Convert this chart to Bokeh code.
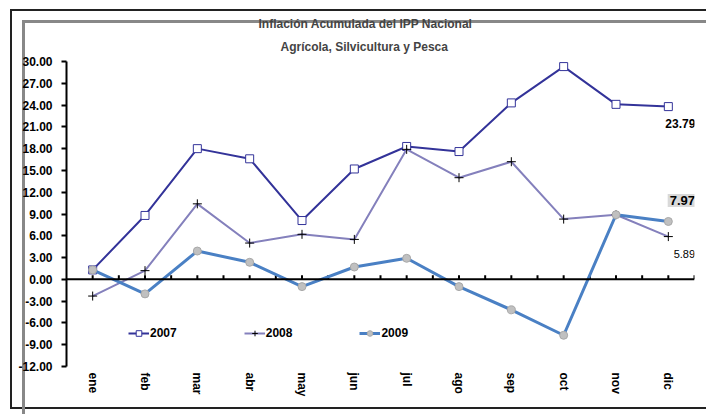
from bokeh.plotting import figure
from bokeh.models import (ColumnDataSource, Range1d, FactorRange, FixedTicker,
                          PrintfTickFormatter, Span, Title, Legend, LegendItem)
from bokeh.transform import dodge
from bokeh.core.properties import value
from bokeh.embed import file_html
from bokeh.resources import INLINE

months = ["ene", "feb", "mar", "abr", "may", "jun", "jul", "ago", "sep", "oct", "nov", "dic"]
v2007 = [1.3, 8.8, 18.0, 16.6, 8.1, 15.2, 18.3, 17.6, 24.3, 29.3, 24.1, 23.79]
v2008 = [-2.3, 1.2, 10.4, 5.0, 6.2, 5.5, 17.9, 14.0, 16.2, 8.3, 8.9, 5.89]
v2009 = [1.3, -2.0, 3.9, 2.35, -1.0, 1.7, 2.9, -1.0, -4.2, -7.7, 8.9, 7.97]
y_ticks = [-12, -9, -6, -3, 0, 3, 6, 9, 12, 15, 18, 21, 24, 27, 30]
series_names = ["2007", "2008", "2009"]
title1 = "Inflación Acumulada del IPP Nacional"
title2 = "Agrícola, Silvicultura y Pesca"

FONT = "Liberation Sans"

# chart-area frame lines (drawn as CSS backgrounds of the figure element)
frame_styles = {
    "background-image": ", ".join(["linear-gradient(#888888, #888888)"] * 2 +
                                  ["linear-gradient(#222222, #222222)"] * 3),
    "background-repeat": "no-repeat",
    "background-position": "22px 20px, 22px 20px, 10px 9px, 10px 9px, 10px 407px",
    "background-size": "3px 100%, 100% 3px, 2px 400px, 100% 2px, 100% 2px",
    "background-color": "white",
}

p = figure(width=706, height=414, output_backend="svg", toolbar_location=None,
           x_range=FactorRange(*months), y_range=Range1d(y_ticks[0], y_ticks[-1]),
           min_border_left=66, min_border_right=12, min_border_top=61, min_border_bottom=48,
           styles=frame_styles)
p.outline_line_color = None
p.xgrid.visible = False
p.ygrid.visible = False
p.background_fill_color = "white"
p.background_fill_alpha = 0
p.border_fill_color = None

# titles
t2 = Title(text=title2, align="left", offset=214, text_font=FONT, text_font_size="12px",
           text_font_style="bold", standoff=15)
t1 = Title(text=title1, align="left", offset=192, text_font=FONT, text_font_size="12px",
           text_font_style="bold", standoff=0, text_line_height=0.75)
p.add_layout(t2, "above")
p.add_layout(t1, "above")

# y axis
ya = p.yaxis[0]
ya.ticker = FixedTicker(ticks=y_ticks)
ya.formatter = PrintfTickFormatter(format="%.2f")
ya.axis_line_width = 2
ya.major_tick_line_width = 2
ya.major_tick_out = 5
ya.major_tick_in = 0
ya.minor_tick_line_color = None
ya.major_label_standoff = 9
ya.major_label_text_font = FONT
ya.major_label_text_font_size = "12px"
ya.major_label_text_font_style = "bold"
ya.major_label_text_color = "black"

# x axis (labels only)
xa = p.xaxis[0]
xa.axis_line_color = None
xa.major_tick_line_color = None
xa.minor_tick_line_color = None
xa.major_label_orientation = "vertical"
xa.major_label_standoff = 0
xa.major_label_text_font = FONT
xa.major_label_text_font_size = "12px"
xa.major_label_text_font_style = "bold"
xa.major_label_text_color = "black"

# zero line with small ticks
p.add_layout(Span(location=0, dimension="width", line_color="black", line_width=2))
tick_src = ColumnDataSource(dict(m=months, y0=[0] * len(months), y1=[0.55] * len(months)))
p.segment(x0="m", x1="m", y0="y0", y1="y1", source=tick_src, line_color="black", line_width=2)
p.segment(x0=dodge("m", 0.5, range=p.x_range), x1=dodge("m", 0.5, range=p.x_range),
          y0="y0", y1="y1", source=tick_src, line_color="black", line_width=2)

src = ColumnDataSource(dict(m=months, a=v2007, b=v2008, c=v2009))

l1 = p.line("m", "a", source=src, line_color="#333399", line_width=2)
s1 = p.scatter("m", "a", source=src, marker="square", size=8, fill_color="white",
               line_color="#333399", line_width=1)
l2 = p.line("m", "b", source=src, line_color="#8480BC", line_width=2)
s2 = p.scatter("m", "b", source=src, marker="cross", size=9, line_color="black", line_width=1)
l3 = p.line("m", "c", source=src, line_color="#4A80C4", line_width=3)
s3 = p.scatter("m", "c", source=src, marker="circle", size=8, fill_color="#C0C0C0",
               line_color="#A8A8A8", line_width=1)

legend = Legend(items=[LegendItem(label=series_names[0], renderers=[l1, s1]),
                       LegendItem(label=series_names[1], renderers=[l2, s2]),
                       LegendItem(label=series_names[2], renderers=[l3, s3])],
                orientation="horizontal", location=(62, 26), spacing=67,
                glyph_width=21, glyph_height=14, label_height=14, label_standoff=1,
                padding=0, margin=0, border_line_color=None, background_fill_alpha=0,
                label_text_font=FONT, label_text_font_size="12px",
                label_text_font_style="bold", label_text_color="black")
p.add_layout(legend, "center")

# end labels
lab1 = ColumnDataSource(dict(x=[months[-1]], y=[v2007[-1]], t=["%.2f" % v2007[-1]]))
p.text("x", "y", "t", source=lab1, x_offset=12, y_offset=17, text_align="center",
       text_baseline="middle", text_font=value(FONT), text_font_size="12px",
       text_font_style="bold", text_color="black")
lab2 = ColumnDataSource(dict(x=[months[-1]], y=[v2008[-1]], t=["%.2f" % v2008[-1]]))
p.text("x", "y", "t", source=lab2, x_offset=16, y_offset=17, text_align="center",
       text_baseline="middle", text_font=value(FONT), text_font_size="11px",
       text_color="black")
lab3 = ColumnDataSource(dict(x=[months[-1]], y=[v2009[-1]], t=["%.2f" % v2009[-1]]))
p.text("x", "y", "t", source=lab3, x_offset=14, y_offset=-21, text_align="center",
       text_baseline="middle", text_font=value(FONT), text_font_size="13px",
       text_font_style="bold", text_color="black",
       background_fill_color="#D9D9D9", padding=2)

open("out.html", "w").write(file_html(p, INLINE))
